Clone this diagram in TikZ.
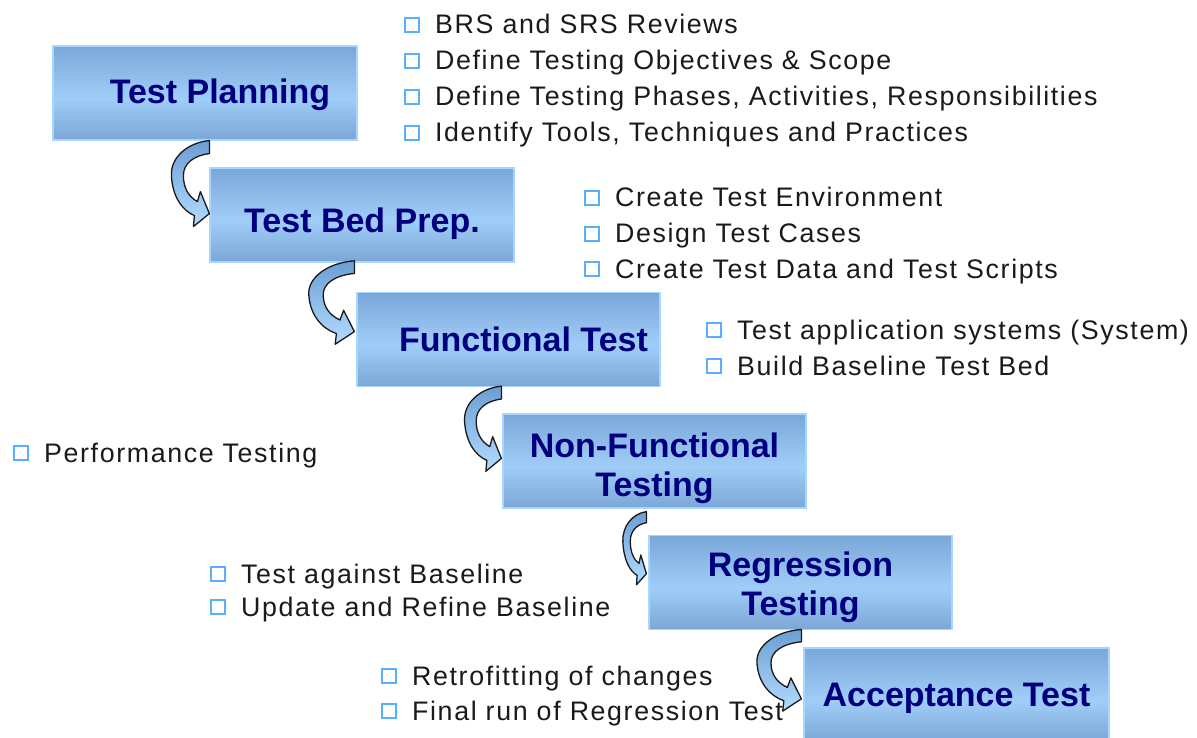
\documentclass[tikz,border=0pt]{standalone}
\usepackage{fontspec}
\setmainfont{Liberation Sans}
\newfontfamily\bulfont[LetterSpace=6]{Liberation Sans}
\usetikzlibrary{calc}
\definecolor{boxtop}{HTML}{7AA7D8}
\definecolor{boxmid}{HTML}{A0CDF8}
\definecolor{boxbot}{HTML}{7BA6D6}
\definecolor{boxedge}{HTML}{A8D6FF}
\definecolor{boxtext}{HTML}{00007F}
\definecolor{bulblue}{HTML}{5AAEFF}
\definecolor{bultext}{HTML}{1A1A1A}
\definecolor{arrtop}{HTML}{6C9ED4}
\definecolor{arrbot}{HTML}{B2DCFF}
\definecolor{arredge}{HTML}{1A1A1A}
\pgfdeclareverticalshading{stageshade}{100bp}{color(0bp)=(boxbot); color(25bp)=(boxbot); color(47bp)=(boxmid); color(75bp)=(boxtop); color(100bp)=(boxtop)}
\tikzset{
  stage/.style={draw=boxedge, line width=1.2pt, shading=stageshade,
    minimum width=304pt, minimum height=94pt, inner sep=0pt, align=center, text=boxtext,
    font=\fontsize{34}{39}\selectfont\bfseries},
  sqbul/.style={draw=bulblue, line width=2pt, minimum size=14pt, inner sep=0pt},
  bitemtext/.style={anchor=base west, inner sep=0pt, text=bultext, font=\bulfont\fontsize{26.8}{31}\selectfont},
  cparrow/.style={draw=arredge, line width=1.3pt, top color=arrtop, bottom color=arrbot, line join=round}
}
\newcommand\dnstrut[1]{\rule{0pt}{#1pt}}
\newcommand\bitem[4]{%
  \node[sqbul] (#1s) at ($(#2,#3)+(-23,-9)$) {};
  \node[bitemtext] (#1) at (#2,#3) {#4};}
\newcommand\ccarrow[3]{%
  \begin{scope}[shift={#1}, xscale=#2, yscale=#3]
    \path[cparrow] (0,-7) .. controls (-22,-5) and (-39,10) .. (-38,28)
      .. controls (-37,49) and (-27,63) .. (-15,68) -- (-16,79) -- (0,66) -- (-9,44) -- (-12,54)
      .. controls (-21,49) and (-26,40) .. (-26,28) .. controls (-26,16) and (-16,8) .. (0,6) -- cycle;
  \end{scope}}
\begin{document}
\begin{tikzpicture}[x=1pt, y=-1pt]
  \useasboundingbox (0,0) rectangle (1197,738);
  \fill[white] (0,0) rectangle (1197,738);

  % stages
  \node[stage] (b1) at (205,93)    {\hspace*{30pt}\dnstrut{28}Test Planning};
  \node[stage] (b2) at (362,215)   {\dnstrut{42}Test Bed Prep.};
  \node[stage, minimum width=303pt] (b3) at (508.5,339.5) {\hspace*{30pt}Functional Test};
  \node[stage, minimum width=303pt] (b4) at (654.5,461) {\dnstrut{40}Non-Functional\\Testing};
  \node[stage, minimum width=303pt] (b5) at (800.5,582.5) {\dnstrut{34}Regression\\Testing};
  \node[stage, minimum width=305pt] (b6) at (956.5,695) {\dnstrut{30}Acceptance Test};

  % curved connectors
  \ccarrow{($(b1.south -| b2.west)+(0,7)$)}{1}{1}
  \ccarrow{($(b2.south -| b3.west)+(-2,5)$)}{1.2}{0.97}
  \ccarrow{($(b3.south -| b4.west)+(-1,6)$)}{0.97}{0.99}
  \ccarrow{($(b4.south -| b5.west)+(-2,9)$)}{0.62}{0.85}
  \ccarrow{($(b5.south -| b6.west)+(-2,6)$)}{1.17}{0.95}

  % bullet items
  \bitem{p1}{435}{34}{BRS and SRS Reviews}
  \bitem{p2}{435}{70}{Define Testing Objectives \& Scope}
  \bitem{p3}{435}{106}{Define Testing Phases, Activities, Responsibilities}
  \bitem{p4}{435}{142}{Identify Tools, Techniques and Practices}

  \bitem{t1}{615}{207}{Create Test Environment}
  \bitem{t2}{615}{243}{Design Test Cases}
  \bitem{t3}{615}{278}{Create Test Data and Test Scripts}

  \bitem{f1}{737}{339}{Test application systems (System)}
  \bitem{f2}{737}{375}{Build Baseline Test Bed}

  \bitem{n1}{44}{462}{Performance Testing}

  \bitem{r1}{241}{583}{Test against Baseline}
  \bitem{r2}{241}{616}{Update and Refine Baseline}

  \bitem{a1}{412}{685}{Retrofitting of changes}
  \bitem{a2}{412}{720}{Final run of Regression Test}
\end{tikzpicture}
\end{document}
